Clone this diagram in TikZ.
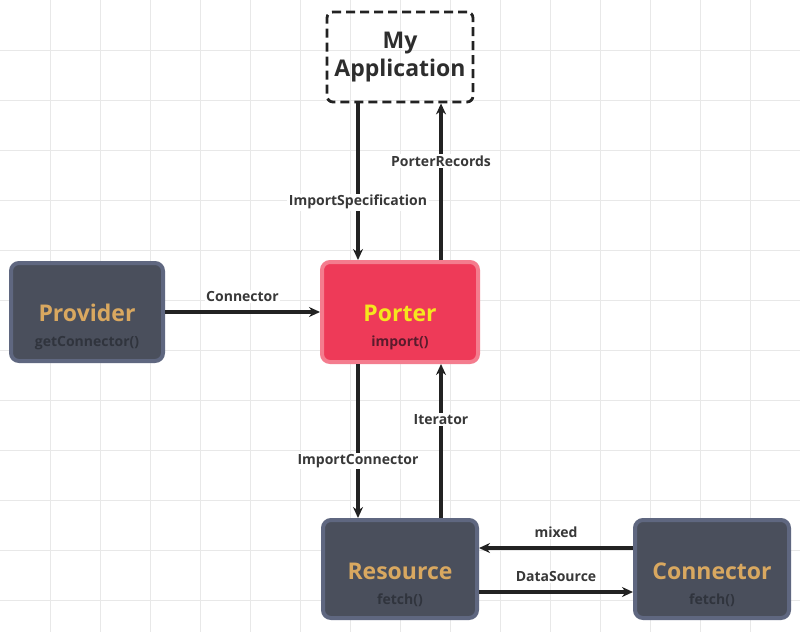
\documentclass[tikz,border=0pt]{standalone}
\usepackage{fontspec}
\setmainfont{Open Sans}
\usepackage{xcolor}
\usetikzlibrary{arrows, arrows.meta}
\usetikzlibrary{positioning}
\definecolor{boxfill}{HTML}{4A4F5C}
\definecolor{boxedge}{HTML}{5F6780}
\definecolor{porterfill}{HTML}{EE3A58}
\definecolor{porteredge}{HTML}{F47C8E}
\definecolor{gold}{HTML}{D9A860}
\definecolor{subtext}{HTML}{30343D}
\definecolor{portersub}{HTML}{5A1B2C}
\definecolor{porterttl}{HTML}{F5E61E}
\definecolor{ink}{HTML}{222222}
\definecolor{gridline}{HTML}{E8E8E8}
\newcommand{\boxtext}[4]{\rule{0pt}{48pt}{\fontsize{23}{25}\selectfont\color{#3}#1}\\{\color{#4}#2}}

\begin{document}
\begin{tikzpicture}[x=1pt,y=-1pt,
		block/.style={draw=boxedge, fill=boxfill, line width=4pt, rounded corners=8pt, minimum width=152pt, minimum height=98pt, align=center, inner sep=0pt, font=\fontsize{14}{25}\selectfont\bfseries},
		conn/.style={-{Stealth[length=11pt,width=10pt]}, line width=3.2pt, draw=ink},
		lbl/.style={fill=white, inner sep=1.5pt, text=ink!90, font=\fontsize{14}{16}\selectfont\bfseries}]
	\useasboundingbox (0,0) rectangle (800,632);
	\fill[white] (0,0) rectangle (800,632);
	%grid
	\foreach \x in {50,100,...,750}
		\draw[gridline, line width=1pt] (\x,0) -- (\x,632);
	\foreach \y in {50,100,...,600}
		\draw[gridline, line width=1pt] (0,\y) -- (800,\y);
	
	% boxes
	\node[draw=ink, dash pattern=on 9pt off 5pt, line width=2.8pt, rounded corners=6pt, minimum width=146pt, minimum height=90pt, align=center, inner sep=0pt, text=ink!95, font=\fontsize{23}{28}\selectfont\bfseries] (app) at (400,57) {My\\Application};
	\node[block, draw=porteredge, fill=porterfill, minimum width=156pt, minimum height=100pt] (porter) at (400,312) {\boxtext{Porter}{import()}{porterttl}{portersub}};
	\node[block] (provider) at (87,312) {\boxtext{Provider}{getConnector()}{gold}{subtext}};
	\node[block, minimum width=154pt] (resource) at (400,569) {\boxtext{Resource}{fetch()}{gold}{subtext}};
	\node[block, minimum width=154pt] (connector) at (712,569) {\boxtext{Connector}{fetch()}{gold}{subtext}};
	
	% arrows
	\draw[conn] ([xshift=-42pt]app.south) -- ([xshift=-42pt]porter.north) node[lbl, pos=0.63] {ImportSpecification};
	\draw[conn] ([xshift=41pt]porter.north) -- ([xshift=41pt]app.south) node[lbl, pos=0.63] {PorterRecords};
	\draw[conn] (provider.east) -- (porter.west) node[lbl, midway, above=7pt] {Connector};
	\draw[conn] ([xshift=-42pt]porter.south) -- ([xshift=-42pt]resource.north) node[lbl, pos=0.63] {ImportConnector};
	\draw[conn] ([xshift=41pt]resource.north) -- ([xshift=41pt]porter.south) node[lbl, pos=0.64] {Iterator};
	\draw[conn] ([yshift=21pt]connector.west) -- ([yshift=21pt]resource.east) node[lbl, midway, above=7pt] {mixed};
	\draw[conn] ([yshift=-23pt]resource.east) -- ([yshift=-23pt]connector.west) node[lbl, midway, above=7pt] {DataSource};
\end{tikzpicture}
\end{document}
